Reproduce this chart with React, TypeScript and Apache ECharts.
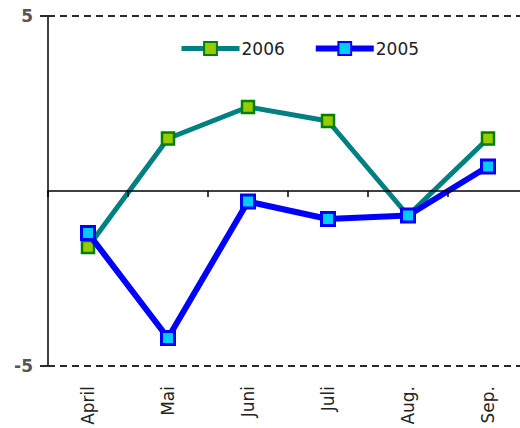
import React, { useEffect, useRef } from "react";
import * as echarts from "echarts";

const months = ["April", "Mai", "Juni", "Juli", "Aug.", "Sep."];
const values2006 = [-1.6, 1.5, 2.4, 2.0, -0.7, 1.5];
const values2005 = [-1.2, -4.2, -0.3, -0.8, -0.7, 0.7];
const yTicks = [-5, 5];

const FONT = "DejaVu Sans";

export default function App() {
  const ref = useRef<HTMLDivElement>(null);

  useEffect(() => {
    if (!ref.current) return;
    const chart = echarts.init(ref.current, null, { renderer: "svg" });
    const dashed = { color: "#2a2a2a", width: 2, type: [7, 5] };
    chart.setOption({
      animation: false,
      backgroundColor: "#ffffff",
      textStyle: { fontFamily: FONT },
      legend: {
        top: 40,
        left: 179,
        padding: 0,
        itemGap: 28,
        itemWidth: 58,
        itemHeight: 16,
        textStyle: { fontFamily: FONT, fontSize: 17, color: "#222", padding: [0, 0, 0, -3] },
        data: [
          { name: "2006", lineStyle: { width: 5 } },
          { name: "2005", lineStyle: { width: 6 } },
        ],
      },
      grid: { left: 48, right: -8, top: 16, bottom: 62, outerBoundsMode: "none" },
      xAxis: [
        {
          type: "category",
          data: months,
          boundaryGap: true,
          z: 5,
          axisLine: { onZero: true, lineStyle: { color: "#000", width: 1.5 } },
          axisTick: { show: true, length: 6, lineStyle: { color: "#000", width: 1.5 } },
          axisLabel: { show: false },
          splitLine: { show: false },
        },
        {
          type: "category",
          data: months,
          position: "bottom",
          boundaryGap: true,
          axisLine: { show: false, onZero: false },
          axisTick: { show: false },
          axisLabel: {
            rotate: 90,
            margin: 20,
            fontFamily: FONT,
            fontSize: 17,
            color: "#222",
          },
        },
      ],
      yAxis: {
        type: "value",
        min: yTicks[0],
        max: yTicks[1],
        interval: 5,
        axisLine: { show: true, lineStyle: { color: "#000", width: 1.5 } },
        axisTick: {
          show: true,
          length: 8,
          customValues: yTicks,
          lineStyle: { color: "#2a2a2a", width: 2 },
        },
        axisLabel: {
          margin: 15,
          customValues: yTicks,
          fontFamily: FONT,
          fontSize: 17,
          fontWeight: "bold",
          color: "#555",
        },
        splitLine: { show: false },
      },
      series: [
        {
          name: "2006",
          type: "line",
          xAxisIndex: 0,
          data: values2006,
          symbol: "rect",
          symbolSize: 12,
          lineStyle: { color: "#008080", width: 5 },
          itemStyle: { color: "#99cc00", borderColor: "#008000", borderWidth: 2.5 },
          z: 3,
          markLine: {
            silent: true,
            symbol: "none",
            label: { show: false },
            lineStyle: dashed,
            data: yTicks.map((v) => ({ yAxis: v })),
          },
        },
        {
          name: "2005",
          type: "line",
          xAxisIndex: 0,
          data: values2005,
          symbol: "rect",
          symbolSize: 13,
          lineStyle: { color: "#0000ff", width: 6 },
          itemStyle: { color: "#00ccff", borderColor: "#0000ff", borderWidth: 3 },
          z: 4,
        },
      ],
    });
    return () => chart.dispose();
  }, []);

  return (
    <div
      ref={ref}
      style={{ position: "fixed", left: 0, top: 0, width: 520, height: 428 }}
    />
  );
}
